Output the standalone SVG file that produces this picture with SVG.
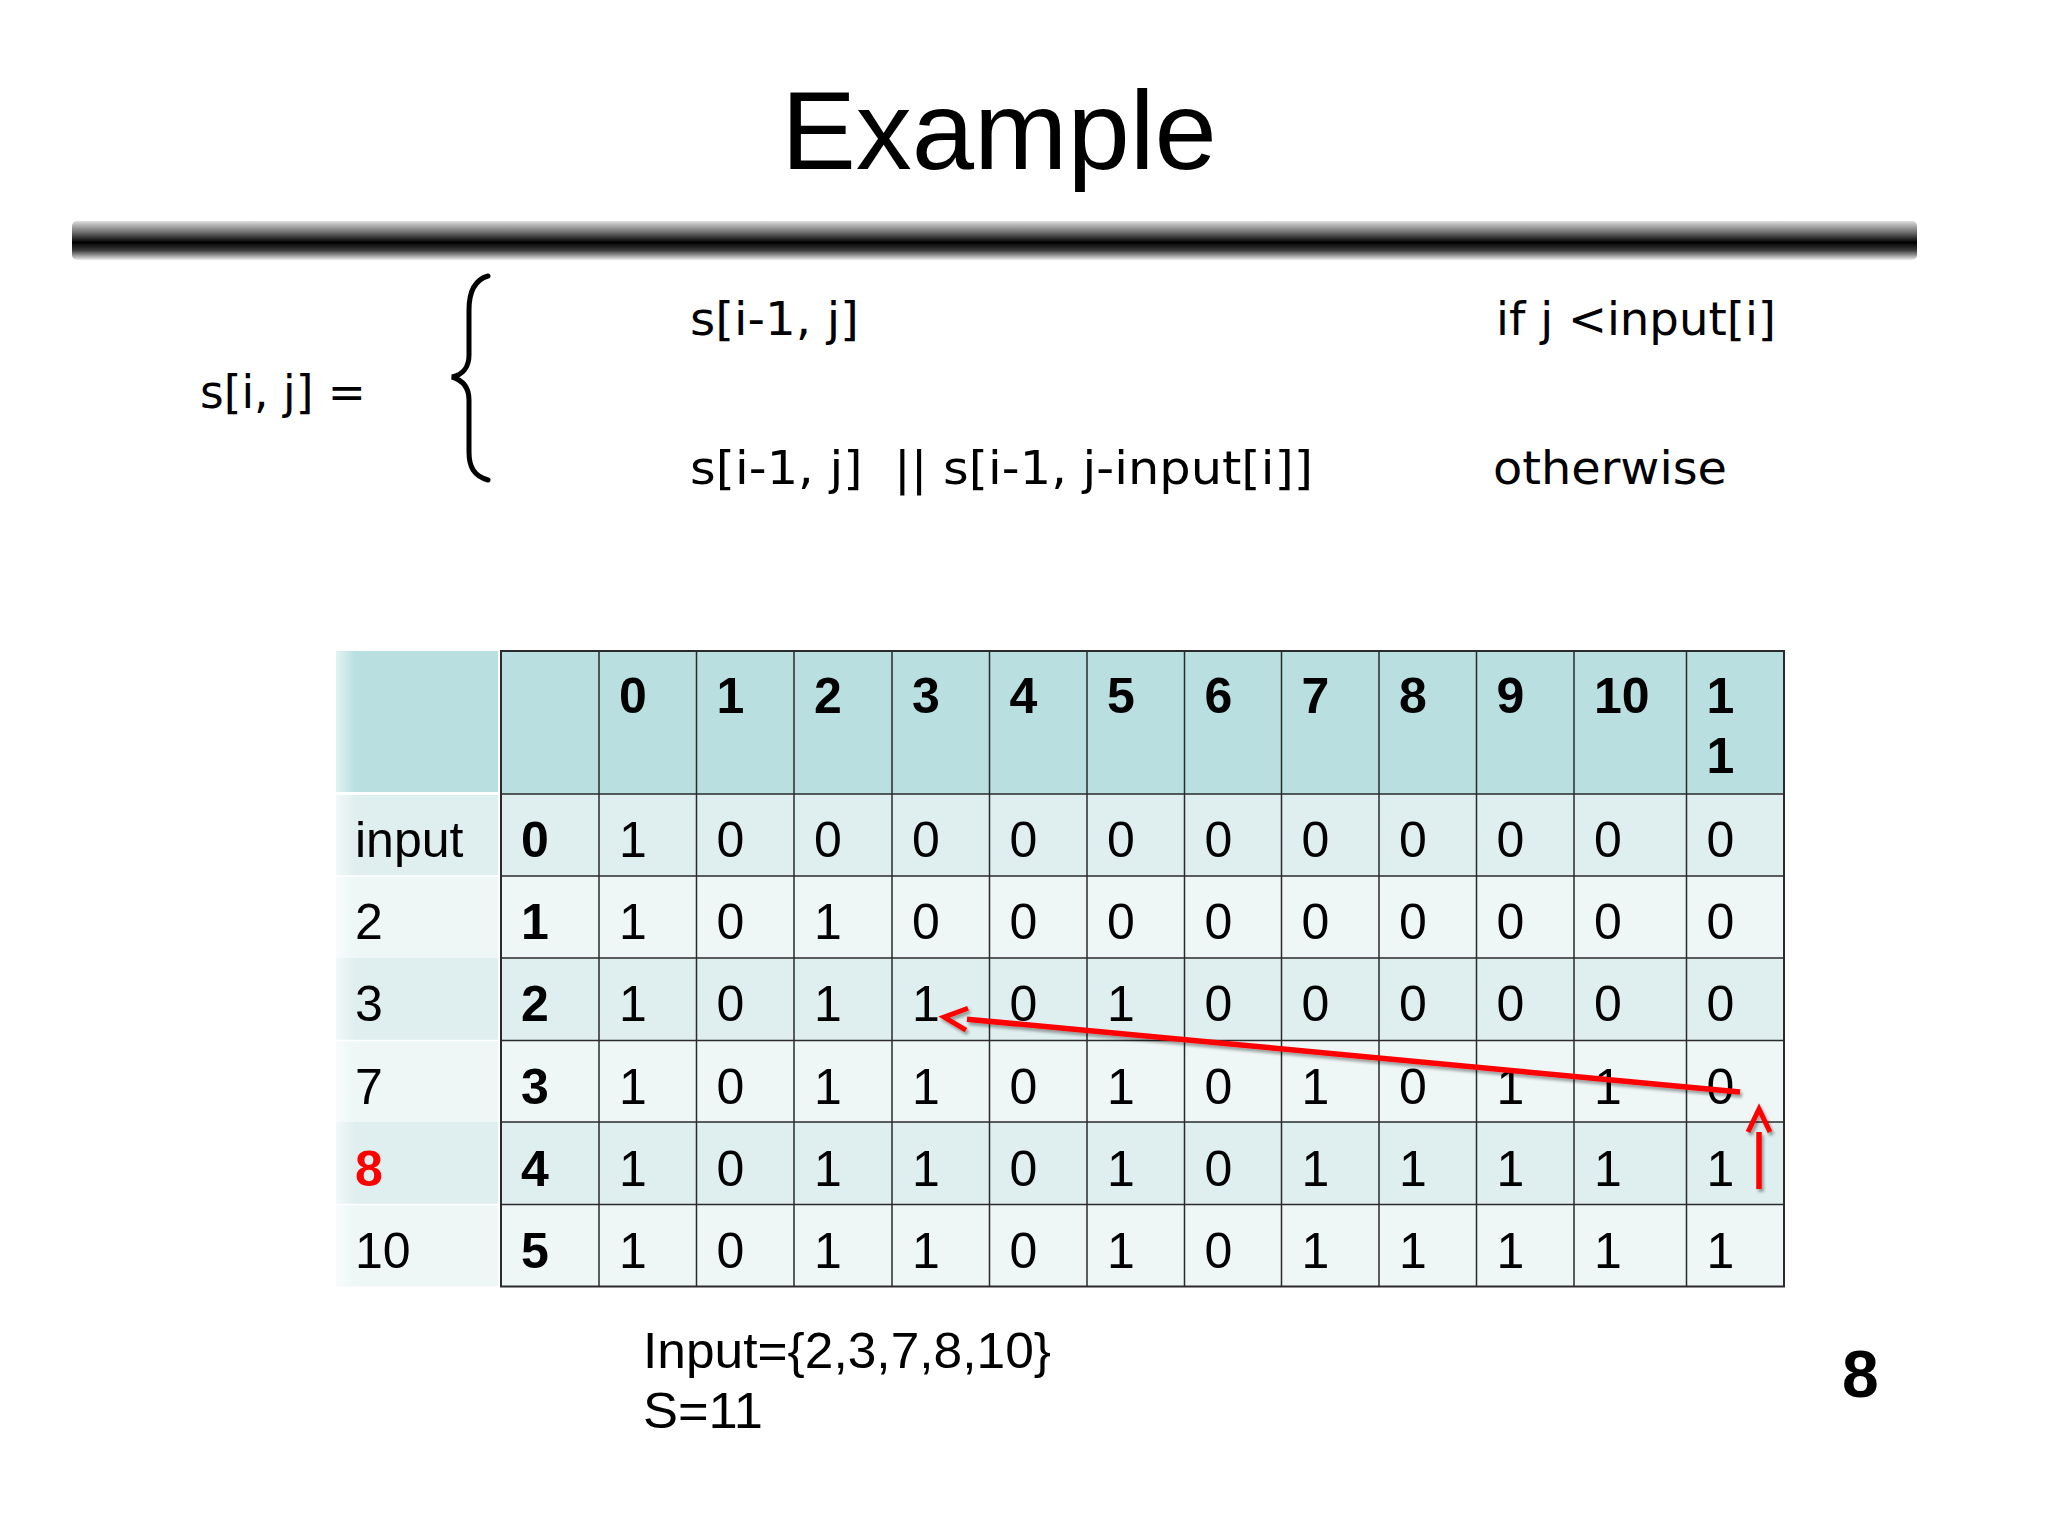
<svg xmlns="http://www.w3.org/2000/svg" width="2048" height="1536" viewBox="0 0 2048 1536">
<defs>
<linearGradient id="barg" x1="0" y1="0" x2="0" y2="1">
<stop offset="0" stop-color="#dcdcdc"/>
<stop offset="0.3" stop-color="#6a6a6a"/>
<stop offset="0.55" stop-color="#000"/>
<stop offset="0.75" stop-color="#3a3a3a"/>
<stop offset="1" stop-color="#ececec"/>
</linearGradient>
<linearGradient id="fadeL" x1="0" y1="0" x2="1" y2="0">
<stop offset="0" stop-color="#fff" stop-opacity="0.6"/>
<stop offset="0.12" stop-color="#fff" stop-opacity="0"/>
</linearGradient>
<filter id="sh" x="-5%" y="-50%" width="110%" height="200%">
<feDropShadow dx="2" dy="3" stdDeviation="1.5" flood-color="#000" flood-opacity="0.35"/>
</filter>
<marker id="chev" markerUnits="userSpaceOnUse" markerWidth="40" markerHeight="40" viewBox="-5 -20 40 40" refX="0" refY="0" orient="auto-start-reverse" overflow="visible">
<path d="M0,-11 L23,0 L0,11" fill="none" stroke="#ff0000" stroke-width="5"/>
</marker>
</defs>
<style>
.t{font-family:"Liberation Sans",Arial,sans-serif;font-size:50px;fill:#000}
.b{font-weight:bold}
.f{font-family:"DejaVu Sans","Noto Sans",sans-serif;font-size:47px;fill:#000}
.gl{stroke:#2b2b2b;stroke-width:1.5;fill:none}
.hd{fill:#b9dfe0}
.ba{fill:#dfeeee}
.bb{fill:#eef6f6}
.arr{fill:none;stroke:#ff0000;stroke-width:5.5;marker-start:url(#chev)}
</style>
<rect width="2048" height="1536" fill="#fff"/>

<g id="title">
<text x="999" y="169" text-anchor="middle" style="font-family:'Liberation Sans',Arial,sans-serif;font-size:112px;fill:#000">Example</text>
</g>
<g id="bar">
<rect x="72" y="221" width="1845" height="39" rx="5" fill="url(#barg)"/>
</g>

<g id="formula">
<text class="f" x="200" y="408" textLength="166" lengthAdjust="spacingAndGlyphs">s[i, j] =</text>
<path d="M488,276 C474,280 469,292 469,310 L469,355 C469,368 462,375 452,377 C462,380 469,387 469,400 L469,452 C469,467 474,476 488,480" fill="none" stroke="#000" stroke-width="5" stroke-linecap="round"/>
<text class="f" x="690" y="335" textLength="169" lengthAdjust="spacingAndGlyphs">s[i-1, j]</text>
<text class="f" x="1496" y="335" textLength="280" lengthAdjust="spacingAndGlyphs">if j &lt;input[i]</text>
<text class="f" x="690" y="484" xml:space="preserve" textLength="623" lengthAdjust="spacingAndGlyphs">s[i-1, j]  || s[i-1, j-input[i]]</text>
<text class="f" x="1493" y="484" textLength="234" lengthAdjust="spacingAndGlyphs">otherwise</text>
</g>

<g id="table">
<g id="label-column">
<rect class="hd" x="336" y="651" width="162" height="141"/>
<rect class="ba" x="336" y="795" width="162" height="81"/>
<rect class="bb" x="336" y="876" width="162" height="82"/>
<rect class="ba" x="336" y="958" width="162" height="82.5"/>
<rect class="bb" x="336" y="1040.5" width="162" height="81.5"/>
<rect class="ba" x="336" y="1122" width="162" height="82.5"/>
<rect class="bb" x="336" y="1204.5" width="162" height="82"/>
<rect x="336" y="651" width="162" height="636" fill="url(#fadeL)"/>
<line x1="336" y1="876" x2="498" y2="876" stroke="#fff" stroke-width="1.5"/>
<line x1="336" y1="1040.5" x2="498" y2="1040.5" stroke="#fff" stroke-width="1.5"/>
<line x1="336" y1="1204.5" x2="498" y2="1204.5" stroke="#fff" stroke-width="1.5"/>
<text class="t" x="355" y="857">input</text>
<text class="t" x="355" y="939">2</text>
<text class="t" x="355" y="1021">3</text>
<text class="t" x="355" y="1103.5">7</text>
<text class="t b" x="355" y="1185.5" style="fill:#ff0000">8</text>
<text class="t" x="355" y="1267.5">10</text>
</g>

<g id="grid-bg">
<rect class="hd" x="501" y="651" width="1283" height="143"/>
<rect class="ba" x="501" y="794" width="1283" height="82"/>
<rect class="bb" x="501" y="876" width="1283" height="82"/>
<rect class="ba" x="501" y="958" width="1283" height="82.5"/>
<rect class="bb" x="501" y="1040.5" width="1283" height="81.5"/>
<rect class="ba" x="501" y="1122" width="1283" height="82.5"/>
<rect class="bb" x="501" y="1204.5" width="1283" height="82"/>
</g>

<g id="grid-lines">
<path class="gl" d="M599,651V1286.5 M696.5,651V1286.5 M794,651V1286.5 M892,651V1286.5 M989.5,651V1286.5 M1087,651V1286.5 M1184.5,651V1286.5 M1281.5,651V1286.5 M1379,651V1286.5 M1476.5,651V1286.5 M1574,651V1286.5 M1686.5,651V1286.5"/>
<path class="gl" d="M501,794H1784 M501,876H1784 M501,958H1784 M501,1040.5H1784 M501,1122H1784 M501,1204.5H1784"/>
<rect x="501" y="651" width="1283" height="635.5" fill="none" stroke="#2b2b2b" stroke-width="2"/>
</g>

<g id="header-row">
<text class="t b" x="619" y="713">0</text>
<text class="t b" x="716.5" y="713">1</text>
<text class="t b" x="814" y="713">2</text>
<text class="t b" x="912" y="713">3</text>
<text class="t b" x="1009.5" y="713">4</text>
<text class="t b" x="1107" y="713">5</text>
<text class="t b" x="1204.5" y="713">6</text>
<text class="t b" x="1301.5" y="713">7</text>
<text class="t b" x="1399" y="713">8</text>
<text class="t b" x="1496.5" y="713">9</text>
<text class="t b" x="1594" y="713">10</text>
<text class="t b" x="1706.5" y="713">1</text>
<text class="t b" x="1706.5" y="773">1</text>
</g>

<g id="row-index">
<text class="t b" x="521" y="857">0</text>
<text class="t b" x="521" y="939">1</text>
<text class="t b" x="521" y="1021">2</text>
<text class="t b" x="521" y="1103.5">3</text>
<text class="t b" x="521" y="1185.5">4</text>
<text class="t b" x="521" y="1267.5">5</text>
</g>

<g id="row0">
<text class="t" x="619" y="857">1</text><text class="t" x="716.5" y="857">0</text><text class="t" x="814" y="857">0</text><text class="t" x="912" y="857">0</text><text class="t" x="1009.5" y="857">0</text><text class="t" x="1107" y="857">0</text><text class="t" x="1204.5" y="857">0</text><text class="t" x="1301.5" y="857">0</text><text class="t" x="1399" y="857">0</text><text class="t" x="1496.5" y="857">0</text><text class="t" x="1594" y="857">0</text><text class="t" x="1706.5" y="857">0</text>
</g>
<g id="row1">
<text class="t" x="619" y="939">1</text><text class="t" x="716.5" y="939">0</text><text class="t" x="814" y="939">1</text><text class="t" x="912" y="939">0</text><text class="t" x="1009.5" y="939">0</text><text class="t" x="1107" y="939">0</text><text class="t" x="1204.5" y="939">0</text><text class="t" x="1301.5" y="939">0</text><text class="t" x="1399" y="939">0</text><text class="t" x="1496.5" y="939">0</text><text class="t" x="1594" y="939">0</text><text class="t" x="1706.5" y="939">0</text>
</g>
<g id="row2">
<text class="t" x="619" y="1021">1</text><text class="t" x="716.5" y="1021">0</text><text class="t" x="814" y="1021">1</text><text class="t" x="912" y="1021">1</text><text class="t" x="1009.5" y="1021">0</text><text class="t" x="1107" y="1021">1</text><text class="t" x="1204.5" y="1021">0</text><text class="t" x="1301.5" y="1021">0</text><text class="t" x="1399" y="1021">0</text><text class="t" x="1496.5" y="1021">0</text><text class="t" x="1594" y="1021">0</text><text class="t" x="1706.5" y="1021">0</text>
</g>
<g id="row3">
<text class="t" x="619" y="1103.5">1</text><text class="t" x="716.5" y="1103.5">0</text><text class="t" x="814" y="1103.5">1</text><text class="t" x="912" y="1103.5">1</text><text class="t" x="1009.5" y="1103.5">0</text><text class="t" x="1107" y="1103.5">1</text><text class="t" x="1204.5" y="1103.5">0</text><text class="t" x="1301.5" y="1103.5">1</text><text class="t" x="1399" y="1103.5">0</text><text class="t" x="1496.5" y="1103.5">1</text><text class="t" x="1594" y="1103.5">1</text><text class="t" x="1706.5" y="1103.5">0</text>
</g>
<g id="row4">
<text class="t" x="619" y="1185.5">1</text><text class="t" x="716.5" y="1185.5">0</text><text class="t" x="814" y="1185.5">1</text><text class="t" x="912" y="1185.5">1</text><text class="t" x="1009.5" y="1185.5">0</text><text class="t" x="1107" y="1185.5">1</text><text class="t" x="1204.5" y="1185.5">0</text><text class="t" x="1301.5" y="1185.5">1</text><text class="t" x="1399" y="1185.5">1</text><text class="t" x="1496.5" y="1185.5">1</text><text class="t" x="1594" y="1185.5">1</text><text class="t" x="1706.5" y="1185.5">1</text>
</g>
<g id="row5">
<text class="t" x="619" y="1267.5">1</text><text class="t" x="716.5" y="1267.5">0</text><text class="t" x="814" y="1267.5">1</text><text class="t" x="912" y="1267.5">1</text><text class="t" x="1009.5" y="1267.5">0</text><text class="t" x="1107" y="1267.5">1</text><text class="t" x="1204.5" y="1267.5">0</text><text class="t" x="1301.5" y="1267.5">1</text><text class="t" x="1399" y="1267.5">1</text><text class="t" x="1496.5" y="1267.5">1</text><text class="t" x="1594" y="1267.5">1</text><text class="t" x="1706.5" y="1267.5">1</text>
</g>
</g>

<g id="connectors" filter="url(#sh)">
<path class="arr" d="M967,1019.2 L1740,1092"/>
<path class="arr" d="M1759,1132 L1759,1189"/>
</g>

<g id="footer">
<text class="t" x="643" y="1368" textLength="408" lengthAdjust="spacingAndGlyphs">Input={2,3,7,8,10}</text>
<text class="t" x="643" y="1428" textLength="120" lengthAdjust="spacingAndGlyphs">S=11</text>
<text class="t b" x="1842" y="1397" style="font-size:66px">8</text>
</g>
</svg>
